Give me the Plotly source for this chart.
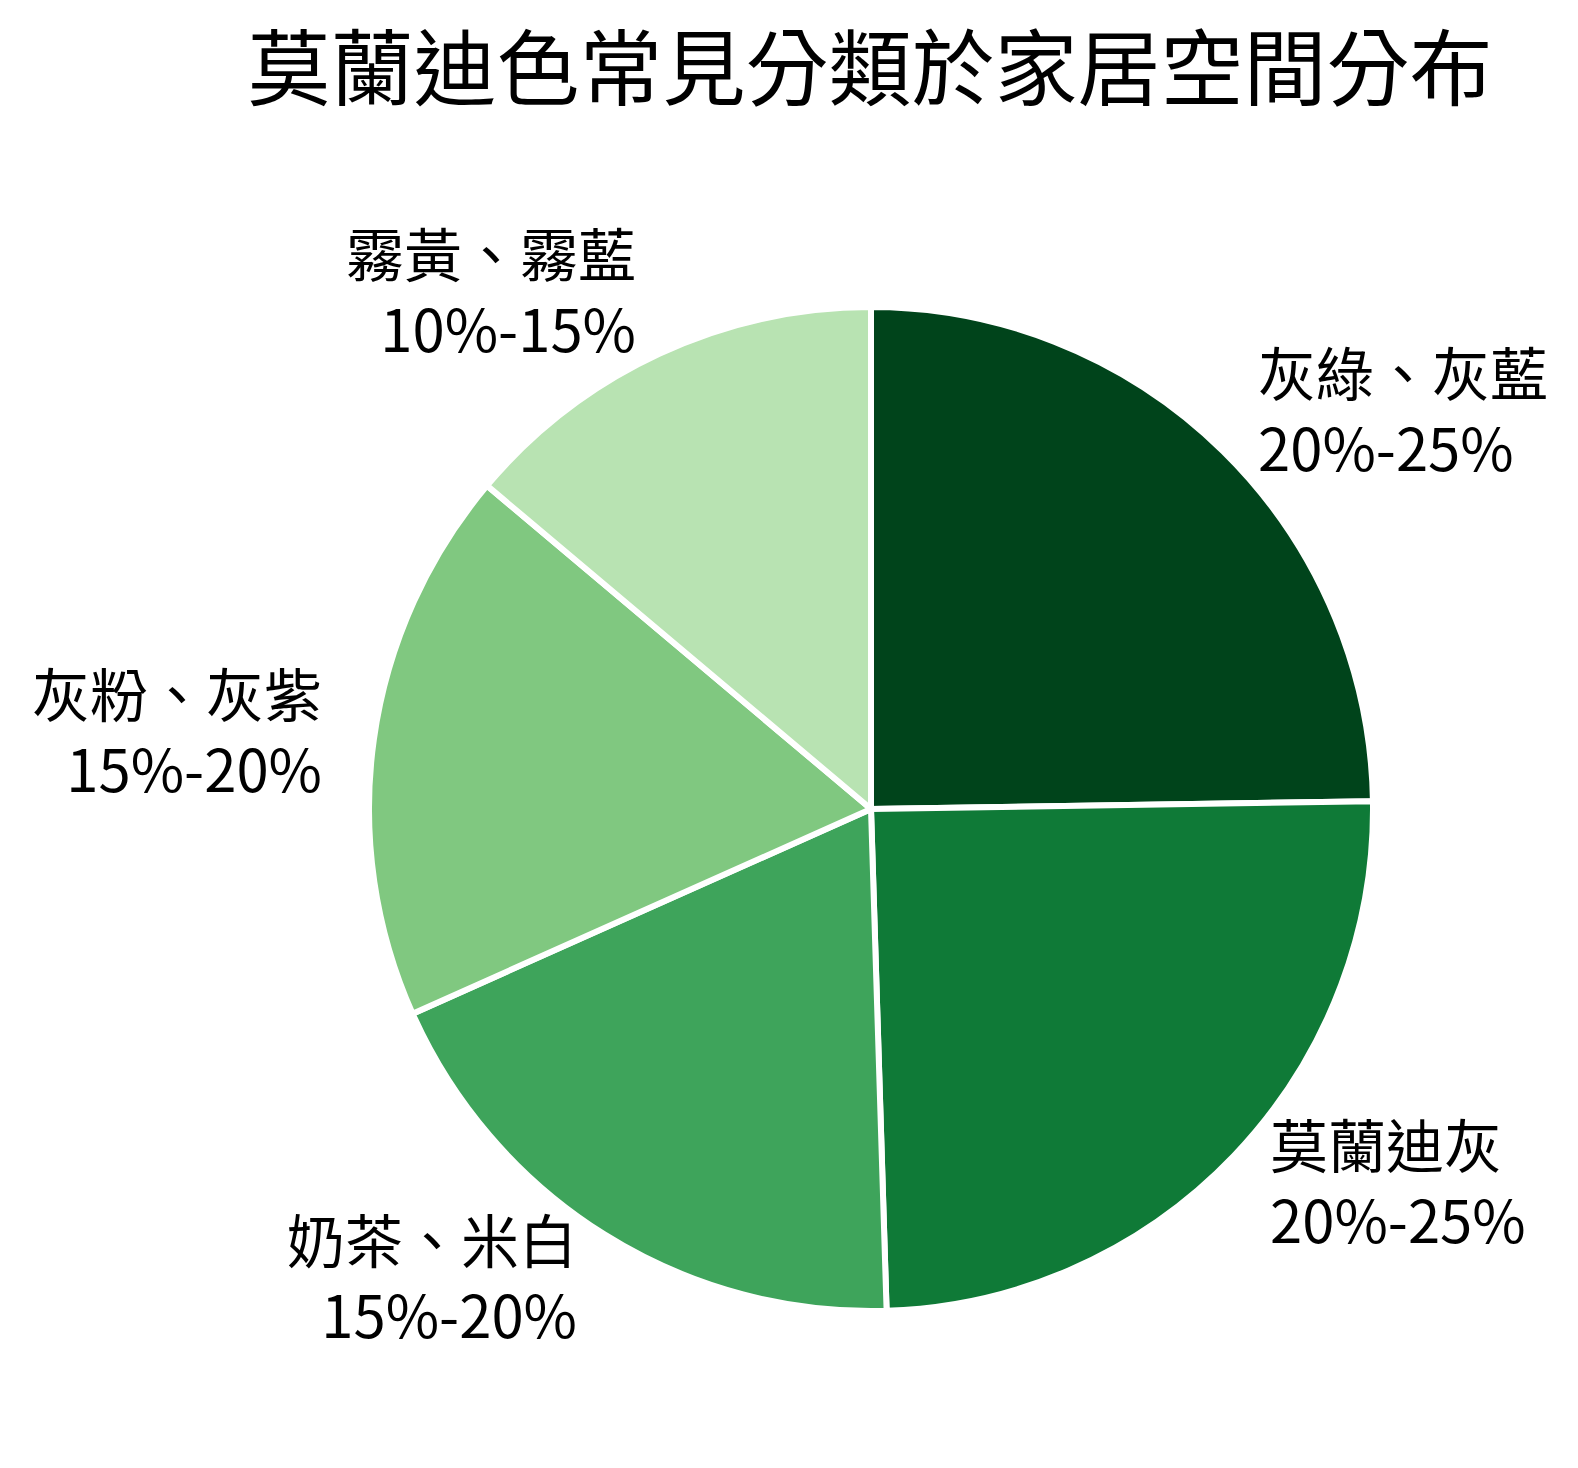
import math
import plotly.graph_objects as go

# slices, clockwise from 12 o'clock
labels = ["灰綠、灰藍", "莫蘭迪灰", "奶茶、米白", "灰粉、灰紫", "霧黃、霧藍"]
ranges = ["20%-25%", "20%-25%", "15%-20%", "15%-20%", "10%-15%"]
values = [25, 25, 19, 18, 14]
colors = ["#00441b", "#0f7a37", "#3ea45b", "#80c880", "#b8e3b2"]

title = "莫蘭迪色常見分類於家居空間分布"
font = "Noto Sans CJK TC"

W, H = 1578, 1468
# square plot area so paper coords map straight onto the pie
ml, mr, mt, mb = 361, 213, 299, 165

fig = go.Figure(go.Pie(
    labels=labels,
    values=values,
    sort=False,
    direction="clockwise",
    rotation=0,
    textinfo="none",
    hoverinfo="label+text",
    text=ranges,
    marker=dict(colors=colors, line=dict(color="white", width=6)),
    showlegend=False,
))

# outside labels, placed roughly the way plotly does it but with
# left/right aligned lines
lab_h = 136
total = sum(values)
acc = 0
annos = []
for lab, rng, v in zip(labels, ranges, values):
    mid = 90 - 360 * (acc + v / 2) / total
    acc += v
    c = math.cos(math.radians(mid))
    s = math.sin(math.radians(mid))
    right = c >= 0
    annos.append(dict(
        x=0.5 + 0.5 * c, y=0.5 + 0.5 * s,
        xref="paper", yref="paper",
        text=lab + "<br>" + rng,
        showarrow=False,
        xanchor="left" if right else "right",
        yanchor="middle",
        align="left" if right else "right",
        xshift=(15 + 36 * c * c) * (1 if right else -1),
        yshift=(lab_h / 2) * s * abs(s) + 8,
        font=dict(family=font, size=58, color="black"),
    ))

fig.update_layout(
    width=W, height=H,
    margin=dict(l=ml, r=mr, t=mt, b=mb),
    paper_bgcolor="white",
    plot_bgcolor="white",
    annotations=annos,
    title=dict(
        text=title,
        x=862 / W, xref="container", xanchor="center",
        y=1 - 62 / H, yref="container", yanchor="middle",
        font=dict(family=font, size=83, color="black"),
    ),
)

fig.write_html("out.html")
